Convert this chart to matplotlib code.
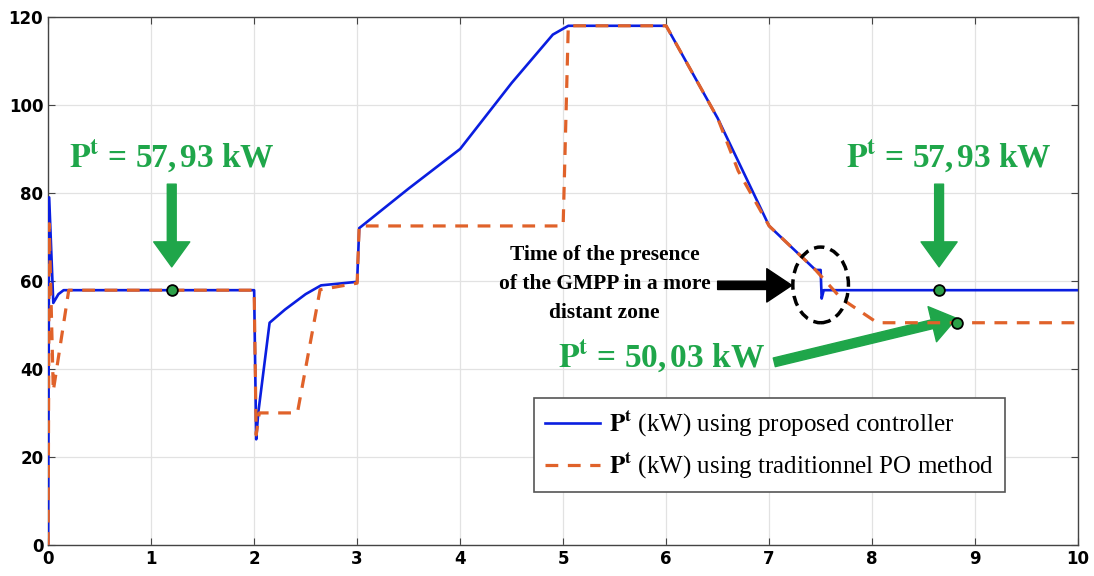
import matplotlib.pyplot as plt
from matplotlib.patches import Ellipse

# time (s) and power (kW) for the two controllers
t_prop = [0, 0.01, 0.05, 0.1, 0.15, 2.0, 2.02, 2.04, 2.15, 2.3, 2.5, 2.65, 3.0, 3.02,
          3.5, 4.0, 4.5, 4.9, 5.05, 6.0, 6.5, 7.0, 7.45, 7.5, 7.51, 7.53, 10]
p_prop = [0, 79, 55, 57, 57.9, 57.9, 24, 30, 50.5, 53.5, 57, 59, 59.8, 72,
          81, 90, 105, 116, 118, 118, 97, 72.5, 62.5, 62.5, 56, 57.9, 57.9]

t_po = [0, 0.01, 0.05, 0.2, 2.0, 2.02, 2.05, 2.42, 2.64, 3.0, 3.02, 5.0, 5.05,
        6.0, 6.5, 6.7, 7.0, 7.45, 7.7, 8.05, 10]
p_po = [0, 73, 35, 57.9, 57.9, 25, 30, 30, 58, 59.5, 72.5, 72.5, 118,
        118, 97, 85, 72.5, 62.5, 56, 50.5, 50.5]

pts_t = [1.2, 8.65, 8.82]
pts_p = [57.93, 57.93, 50.5]

green = '#1fa64a'
serif = 'Liberation Serif'
bold_serif = dict(family=serif, weight='bold')
plt.rcParams['mathtext.fontset'] = 'stix'

fig = plt.figure(figsize=(10.94, 5.76), dpi=100)
ax = fig.add_axes([0.044, 0.054, 0.9415, 0.9165])

ax.plot(t_prop, p_prop, color='#0a1ee0', lw=1.9, label=r'$\mathbf{P^t}$ (kW) using proposed controller', zorder=3)
ax.plot(t_po, p_po, color='#e0622a', lw=2.3, ls=(0, (4, 3)), label=r'$\mathbf{P^t}$ (kW) using traditionnel PO method', zorder=4)
ax.scatter(pts_t, pts_p, s=60, color='#2ca048', edgecolors='black', linewidths=1.3, zorder=6)

# annotations
txt1 = r'$\mathbf{P^t}$ = 57,$\,$93 kW'
txt2 = r'$\mathbf{P^t}$ = 50,$\,$03 kW'
ax.text(1.2, 88.5, txt1, color=green, fontsize=24, ha='center', va='center', **bold_serif)
ax.text(8.75, 88.5, txt1, color=green, fontsize=24, ha='center', va='center', **bold_serif)
ax.text(5.95, 43, txt2, color=green, fontsize=24, ha='center', va='center', **bold_serif)

arr = dict(arrowstyle='simple,head_length=0.9,head_width=1.3,tail_width=0.32',
           mutation_scale=20, color=green, shrinkA=0, shrinkB=0)
ax.annotate('', xy=(1.2, 63.2), xytext=(1.2, 82), arrowprops=arr)
ax.annotate('', xy=(8.65, 63.2), xytext=(8.65, 82), arrowprops=arr)
ax.annotate('', xy=(8.82, 51.5), xytext=(7.05, 41.5), arrowprops=arr)

ax.text(5.4, 59.3, 'Time of the presence\nof the GMPP in a more\ndistant zone', fontsize=15.5,
        ha='center', va='center', linespacing=1.6, **bold_serif)
ax.annotate('', xy=(7.22, 59), xytext=(6.5, 59),
            arrowprops=dict(arrowstyle='simple,head_length=0.9,head_width=1.2,tail_width=0.3',
                            mutation_scale=20, color='black', shrinkA=0, shrinkB=0))
ax.add_patch(Ellipse((7.5, 59.1), 0.54, 17.2, fill=False, ec='black', lw=2.5, ls=(0, (3, 1.8)), zorder=5))

leg = ax.legend(loc='lower right', bbox_to_anchor=(0.929, 0.100), borderaxespad=0, handlelength=2.2,
                handletextpad=0.35, fancybox=False, edgecolor='#555555', framealpha=1,
                borderpad=0.45, labelspacing=0.45, prop=dict(family=serif, size=18))
leg.get_frame().set_linewidth(1.2)

ax.set_xlim(0, 10)
ax.set_ylim(0, 120)
ax.set_xticks(range(0, 11))
ax.set_yticks(range(0, 121, 20))
ax.grid(True, color='#e2e2e2', lw=0.9)
ax.tick_params(direction='in', top=True, right=True, length=5, labelsize=12, color='#444444')
for lab in ax.get_xticklabels() + ax.get_yticklabels():
    lab.set_fontweight('bold')
for s in ax.spines.values():
    s.set_color('#444444')
    s.set_linewidth(1.0)

fig.savefig('out.png', dpi=100)
